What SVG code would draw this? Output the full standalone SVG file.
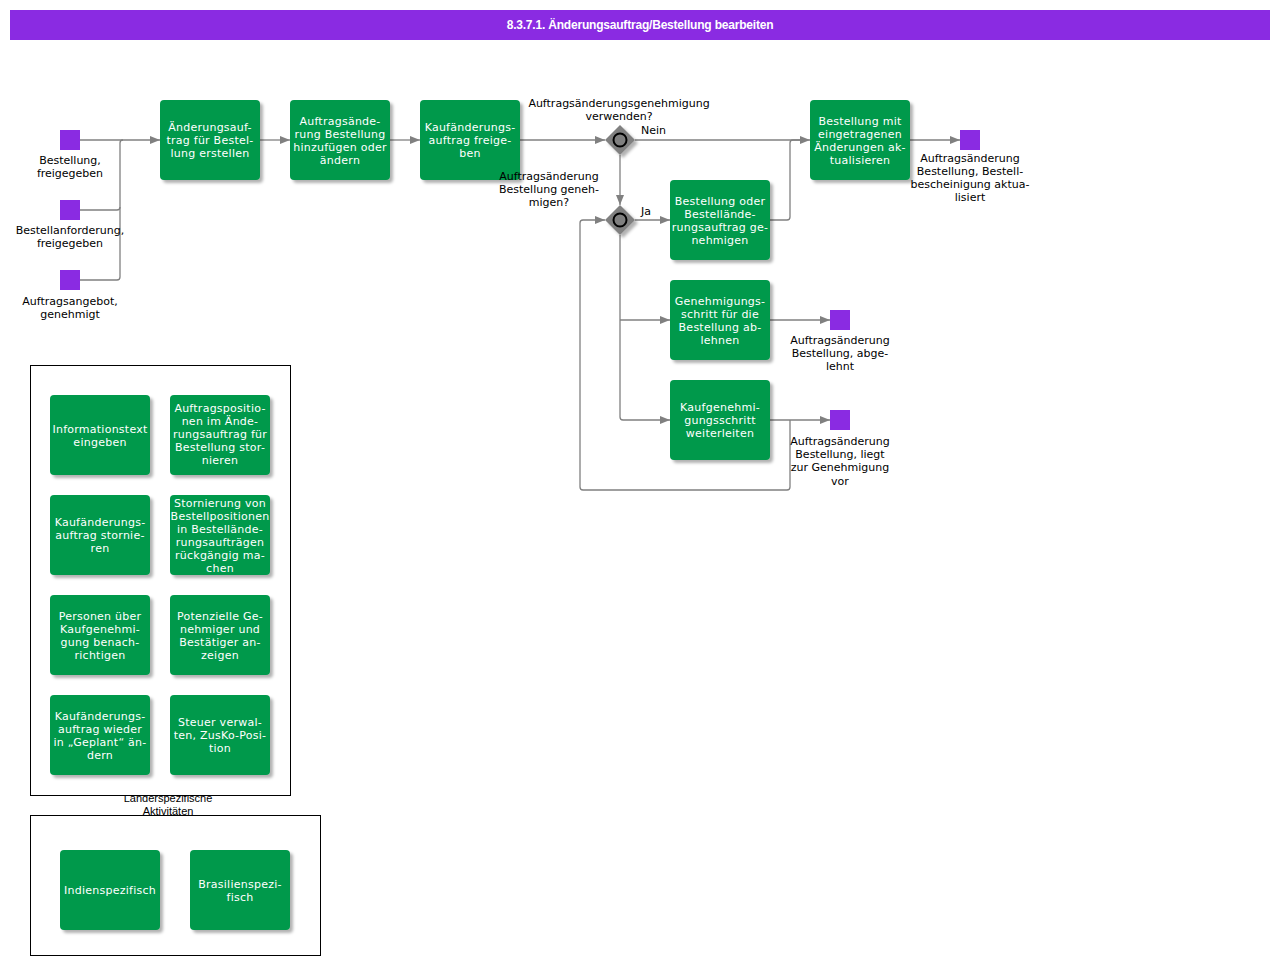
<svg xmlns="http://www.w3.org/2000/svg" width="1280" height="965" viewBox="0 0 1280 965">
<defs>
<filter id="sh" x="-20%" y="-20%" width="150%" height="150%">
<feDropShadow dx="3" dy="3" stdDeviation="1.5" flood-color="#000" flood-opacity="0.3"/>
</filter>
<marker id="arr" viewBox="0 0 10 10" refX="10" refY="5" markerWidth="10" markerHeight="10" markerUnits="userSpaceOnUse" orient="auto">
<path d="M0,1 L10,5 L0,9 Z" fill="#808080"/>
</marker>
<style>
.task{fill:#00994c;filter:url(#sh)}
.ev{fill:#8a2be2}
.tt{font-family:"DejaVu Sans",Verdana,sans-serif;font-size:11px;fill:#fff;text-anchor:middle;letter-spacing:0.25px}
.lb{font-family:"DejaVu Sans",Verdana,sans-serif;font-size:11px;fill:#000;text-anchor:middle}
.cn{fill:none;stroke:#808080;stroke-width:1.3}
.gw{fill:#808080;filter:url(#sh)}
.gc{fill:#808080;stroke:#000;stroke-width:2}
.box{fill:#fff;stroke:#000;stroke-width:1}
</style>
</defs>
<rect width="1280" height="965" fill="#fff"/>
<g id="title">
<rect x="10" y="10" width="1260" height="30" fill="#8a2be2"/>
<text x="640" y="29" font-family="'Liberation Sans',Arial,sans-serif" font-size="12" font-weight="bold" fill="#fff" text-anchor="middle" letter-spacing="-0.2">8.3.7.1. Änderungsauftrag/Bestellung bearbeiten</text>
</g>
<g id="connectors">
<path class="cn" d="M80,140 H160" marker-end="url(#arr)"/>
<path class="cn" d="M80,210 H117 Q120,210 120,207 V143 Q120,140 123,140"/>
<path class="cn" d="M80,280 H117 Q120,280 120,277 V207"/>
<path class="cn" d="M260,140 H290" marker-end="url(#arr)"/>
<path class="cn" d="M390,140 H420" marker-end="url(#arr)"/>
<path class="cn" d="M520,140 H605" marker-end="url(#arr)"/>
<path class="cn" d="M635,140 H810" marker-end="url(#arr)"/>
<path class="cn" d="M620,155 V205" marker-end="url(#arr)"/>
<path class="cn" d="M635,220 H670" marker-end="url(#arr)"/>
<path class="cn" d="M620,235 V417 Q620,420 623,420 H670" marker-end="url(#arr)"/>
<path class="cn" d="M620,320 H670" marker-end="url(#arr)"/>
<path class="cn" d="M770,220 H787 Q790,220 790,217 V143 Q790,140 793,140 H800"/>
<path class="cn" d="M770,320 H830" marker-end="url(#arr)"/>
<path class="cn" d="M770,420 H830" marker-end="url(#arr)"/>
<path class="cn" d="M790,420 V487 Q790,490 787,490 H583 Q580,490 580,487 V223 Q580,220 583,220 H605" marker-end="url(#arr)"/>
<path class="cn" d="M910,140 H960" marker-end="url(#arr)"/>
</g>
<g id="start1"><rect class="ev" x="60" y="130" width="20" height="20"/><text class="lb"><tspan x="70" y="164">Bestellung,</tspan><tspan x="70" y="177">freigegeben</tspan></text></g>
<g id="start2"><rect class="ev" x="60" y="200" width="20" height="20"/><text class="lb"><tspan x="70" y="234">Bestellanforderung,</tspan><tspan x="70" y="247">freigegeben</tspan></text></g>
<g id="start3"><rect class="ev" x="60" y="270" width="20" height="20"/><text class="lb"><tspan x="70" y="305">Auftragsangebot,</tspan><tspan x="70" y="318">genehmigt</tspan></text></g>
<g id="t1"><rect class="task" x="160" y="100" width="100" height="80" rx="4"/><text class="tt"><tspan x="210" y="131">Änderungsauf-</tspan><tspan x="210" y="144">trag für Bestel-</tspan><tspan x="210" y="157">lung erstellen</tspan></text></g>
<g id="t2"><rect class="task" x="290" y="100" width="100" height="80" rx="4"/><text class="tt"><tspan x="340" y="124.5">Auftragsände-</tspan><tspan x="340" y="137.5">rung Bestellung</tspan><tspan x="340" y="150.5">hinzufügen oder</tspan><tspan x="340" y="163.5">ändern</tspan></text></g>
<g id="t3"><rect class="task" x="420" y="100" width="100" height="80" rx="4"/><text class="tt"><tspan x="470" y="131">Kaufänderungs-</tspan><tspan x="470" y="144">auftrag freige-</tspan><tspan x="470" y="157">ben</tspan></text></g>
<g id="gw1"><path class="gw" d="M620,125 L635,140 L620,155 L605,140 Z"/><circle class="gc" cx="620" cy="140" r="6.5"/>
<text class="lb"><tspan x="619" y="107">Auftragsänderungsgenehmigung</tspan><tspan x="619" y="120">verwenden?</tspan></text>
<text class="lb" x="641" y="134" style="text-anchor:start">Nein</text></g>
<g id="gw2"><path class="gw" d="M620,205 L635,220 L620,235 L605,220 Z"/><circle class="gc" cx="620" cy="220" r="6.5"/>
<text class="lb"><tspan x="549" y="180">Auftragsänderung</tspan><tspan x="549" y="193">Bestellung geneh-</tspan><tspan x="549" y="206">migen?</tspan></text>
<text class="lb" x="641" y="215" style="text-anchor:start">Ja</text></g>
<g id="t4"><rect class="task" x="810" y="100" width="100" height="80" rx="4"/><text class="tt"><tspan x="860" y="124.5">Bestellung mit</tspan><tspan x="860" y="137.5">eingetragenen</tspan><tspan x="860" y="150.5">Änderungen ak-</tspan><tspan x="860" y="163.5">tualisieren</tspan></text></g>
<g id="t5"><rect class="task" x="670" y="180" width="100" height="80" rx="4"/><text class="tt"><tspan x="720" y="204.5">Bestellung oder</tspan><tspan x="720" y="217.5">Bestellände-</tspan><tspan x="720" y="230.5">rungsauftrag ge-</tspan><tspan x="720" y="243.5">nehmigen</tspan></text></g>
<g id="t6"><rect class="task" x="670" y="280" width="100" height="80" rx="4"/><text class="tt"><tspan x="720" y="304.5">Genehmigungs-</tspan><tspan x="720" y="317.5">schritt für die</tspan><tspan x="720" y="330.5">Bestellung ab-</tspan><tspan x="720" y="343.5">lehnen</tspan></text></g>
<g id="t7"><rect class="task" x="670" y="380" width="100" height="80" rx="4"/><text class="tt"><tspan x="720" y="411">Kaufgenehmi-</tspan><tspan x="720" y="424">gungsschritt</tspan><tspan x="720" y="437">weiterleiten</tspan></text></g>
<g id="end1"><rect class="ev" x="960" y="130" width="20" height="20"/><text class="lb"><tspan x="970" y="162">Auftragsänderung</tspan><tspan x="970" y="175">Bestellung, Bestell-</tspan><tspan x="970" y="188">bescheinigung aktua-</tspan><tspan x="970" y="201">lisiert</tspan></text></g>
<g id="end2"><rect class="ev" x="830" y="310" width="20" height="20"/><text class="lb"><tspan x="840" y="344">Auftragsänderung</tspan><tspan x="840" y="357">Bestellung, abge-</tspan><tspan x="840" y="370">lehnt</tspan></text></g>
<g id="end3"><rect class="ev" x="830" y="410" width="20" height="20"/><text class="lb"><tspan x="840" y="445">Auftragsänderung</tspan><tspan x="840" y="458">Bestellung, liegt</tspan><tspan x="840" y="471">zur Genehmigung</tspan><tspan x="840" y="485">vor</tspan></text></g>
<text font-family="'Liberation Sans',Arial,sans-serif" font-size="11" fill="#000" text-anchor="middle"><tspan x="168" y="802">Länderspezifische</tspan><tspan x="168" y="815">Aktivitäten</tspan></text>
<g id="group1">
<rect class="box" x="30.5" y="365.5" width="260" height="430"/>
<g id="g1a"><rect class="task" x="50" y="395" width="100" height="80" rx="4"/><text class="tt"><tspan x="100" y="432.5">Informationstext</tspan><tspan x="100" y="445.5">eingeben</tspan></text></g>
<g id="g1b"><rect class="task" x="170" y="395" width="100" height="80" rx="4"/><text class="tt"><tspan x="220" y="412">Auftragspositio-</tspan><tspan x="220" y="425">nen im Ände-</tspan><tspan x="220" y="438">rungsauftrag für</tspan><tspan x="220" y="451">Bestellung stor-</tspan><tspan x="220" y="464">nieren</tspan></text></g>
<g id="g1c"><rect class="task" x="50" y="495" width="100" height="80" rx="4"/><text class="tt"><tspan x="100" y="526">Kaufänderungs-</tspan><tspan x="100" y="539">auftrag stornie-</tspan><tspan x="100" y="552">ren</tspan></text></g>
<g id="g1d"><rect class="task" x="170" y="495" width="100" height="80" rx="4"/><text class="tt"><tspan x="220" y="506.5">Stornierung von</tspan><tspan x="220" y="519.5">Bestellpositionen</tspan><tspan x="220" y="532.5">in Bestellände-</tspan><tspan x="220" y="545.5">rungsaufträgen</tspan><tspan x="220" y="558.5">rückgängig ma-</tspan><tspan x="220" y="571.5">chen</tspan></text></g>
<g id="g1e"><rect class="task" x="50" y="595" width="100" height="80" rx="4"/><text class="tt"><tspan x="100" y="619.5">Personen über</tspan><tspan x="100" y="632.5">Kaufgenehmi-</tspan><tspan x="100" y="645.5">gung benach-</tspan><tspan x="100" y="658.5">richtigen</tspan></text></g>
<g id="g1f"><rect class="task" x="170" y="595" width="100" height="80" rx="4"/><text class="tt"><tspan x="220" y="619.5">Potenzielle Ge-</tspan><tspan x="220" y="632.5">nehmiger und</tspan><tspan x="220" y="645.5">Bestätiger an-</tspan><tspan x="220" y="658.5">zeigen</tspan></text></g>
<g id="g1g"><rect class="task" x="50" y="695" width="100" height="80" rx="4"/><text class="tt"><tspan x="100" y="719.5">Kaufänderungs-</tspan><tspan x="100" y="732.5">auftrag wieder</tspan><tspan x="100" y="745.5">in „Geplant“ än-</tspan><tspan x="100" y="758.5">dern</tspan></text></g>
<g id="g1h"><rect class="task" x="170" y="695" width="100" height="80" rx="4"/><text class="tt"><tspan x="220" y="726">Steuer verwal-</tspan><tspan x="220" y="739">ten, ZusKo-Posi-</tspan><tspan x="220" y="752">tion</tspan></text></g>
</g>
<g id="group2">
<rect class="box" x="30.5" y="815.5" width="290" height="140"/>
<g id="g2a"><rect class="task" x="60" y="850" width="100" height="80" rx="4"/><text class="tt"><tspan x="110" y="894">Indienspezifisch</tspan></text></g>
<g id="g2b"><rect class="task" x="190" y="850" width="100" height="80" rx="4"/><text class="tt"><tspan x="240" y="887.5">Brasilienspezi-</tspan><tspan x="240" y="900.5">fisch</tspan></text></g>
</g>
</svg>
